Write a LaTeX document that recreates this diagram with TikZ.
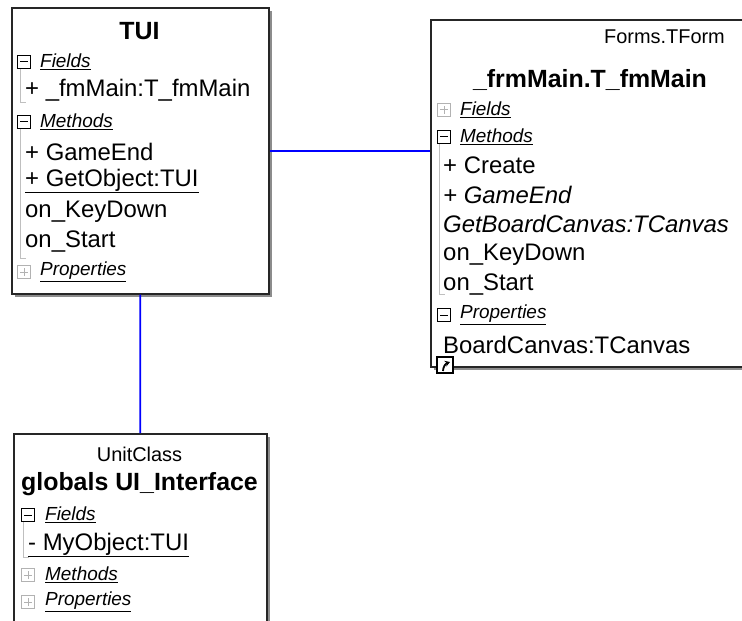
\documentclass[tikz,border=0pt]{standalone}
\usepackage{fontspec}
\setmainfont{Liberation Sans}
\usepackage{tikz}
\usetikzlibrary{arrows.meta,shadows}

\tikzset{
  classbox/.style={draw=black!85, line width=1.6bp, fill=white, anchor=north west, inner sep=0pt,
    drop shadow={shadow xshift=3bp, shadow yshift=-3bp, fill=black!45, opacity=1}},
  classname/.style={font=\fontsize{25}{28}\selectfont\bfseries, inner sep=0pt},
  stereo/.style={font=\fontsize{20}{23}\selectfont, inner sep=0pt},
  member/.style={anchor=west, font=\fontsize{24}{27}\selectfont, inner sep=0pt},
  section/.style={anchor=west, font=\fontsize{19}{21}\selectfont\itshape, inner sep=0pt},
  openbox/.style={draw=black, line width=1bp, fill=white, minimum size=13bp, inner sep=0pt,
    path picture={\draw[line width=1bp] ([xshift=2.5bp]path picture bounding box.west) -- ([xshift=-2.5bp]path picture bounding box.east);}},
  shutbox/.style={draw=black!30, line width=1bp, fill=white, minimum size=13bp, inner sep=0pt,
    path picture={\draw[black!30, line width=1bp] ([xshift=2.5bp]path picture bounding box.west) -- ([xshift=-2.5bp]path picture bounding box.east)
      ([yshift=2.5bp]path picture bounding box.south) -- ([yshift=-2.5bp]path picture bounding box.north);}},
  guide/.style={black!25, line width=1bp},
  link/.style={blue, line width=1.8bp},
}

\begin{document}
\begin{tikzpicture}[x=1bp,y=-1bp]
  \useasboundingbox (0,0) rectangle (742,621);

  % the three classes
  \node[classbox, minimum width=257bp, minimum height=286bp] (tui) at (11,7) {};
  \node[classbox, minimum width=330bp, minimum height=347bp] (form) at (430,19) {};
  \node[classbox, minimum width=253bp, minimum height=200bp] (unit) at (13,433) {};

  % associations
  \draw[link] (tui.east) -- (tui.east -| form.west);
  \draw[link] (tui.south) -- (unit.north);

  % TUI
  \node[classname] (tui-name) at (139.5,31) {TUI};
  \node[openbox] (tui-fi) at (24,62) {};
  \node[section] (tui-f) at (40,62) {\underline{Fields}};
  \draw[guide] (tui-fi.south -| 20,0) |- (26,103);
  \node[member] (tui-m1) at (25,90) {+ \_fmMain:T\_fmMain};
  \node[openbox] (tui-mi) at (24,122) {};
  \node[section] (tui-m) at (40,122) {\underline{Methods}};
  \draw[guide] (tui-mi.south -| 20,0) |- (26,258);
  \node[member] (tui-o1) at (25,152) {+ GameEnd};
  \node[member] (tui-o2) at (25,181) {\underline{+ GetObject:TUI}};
  \node[member] (tui-o3) at (25,212) {on\_KeyDown};
  \node[member] (tui-o4) at (25,242) {on\_Start};
  \node[shutbox] (tui-pi) at (24,272) {};
  \node[section] (tui-p) at (40,272) {\underline{Properties}};

  % _frmMain.T_fmMain
  \node[stereo, anchor=east] (form-st) at (725,37) {Forms.TForm};
  \node[classname] (form-name) at (590,80) {\_frmMain.T\_fmMain};
  \node[shutbox] (form-fi) at (444,110) {};
  \node[section] (form-f) at (460,110) {\underline{Fields}};
  \node[openbox] (form-mi) at (444,137) {};
  \node[section] (form-m) at (460,137) {\underline{Methods}};
  \draw[guide] (form-mi.south -| 439,0) |- (445,294);
  \node[member] (form-o1) at (443,165) {+ Create};
  \node[member] (form-o2) at (443,195) {\itshape + GameEnd};
  \node[member] (form-o3) at (443,224) {\itshape GetBoardCanvas:TCanvas};
  \node[member] (form-o4) at (443,255) {on\_KeyDown};
  \node[member] (form-o5) at (443,285) {on\_Start};
  \node[openbox] (form-pi) at (444,315) {};
  \node[section] (form-p) at (460,315) {\underline{Properties}};
  \node[member] (form-p1) at (443,345) {BoardCanvas:TCanvas};
  \node[draw, line width=1.2bp, fill=white, minimum size=16bp, inner sep=0pt,
    path picture={\draw[line width=1.8bp, -{Stealth[length=5bp,width=6bp]}]
      ([xshift=-2bp,yshift=-6bp]path picture bounding box.center) to[out=90,in=200]
      ([xshift=5bp,yshift=3bp]path picture bounding box.center);}] (form-link) at (445,365) {};

  % globals UI_Interface
  \node[stereo] (unit-st) at (139.5,454) {UnitClass};
  \node[classname] (unit-name) at (139.5,484) {globals UI\_Interface};
  \node[openbox] (unit-fi) at (28,515) {};
  \node[section] (unit-f) at (45,515) {\underline{Fields}};
  \draw[guide] (unit-fi.south -| 23,0) |- (29,557);
  \node[member] (unit-f1) at (28,545) {\underline{- MyObject:TUI}};
  \node[shutbox] (unit-mi) at (28,575) {};
  \node[section] (unit-m) at (45,575) {\underline{Methods}};
  \node[shutbox] (unit-pi) at (28,602) {};
  \node[section] (unit-p) at (45,602) {\underline{Properties}};
\end{tikzpicture}
\end{document}
